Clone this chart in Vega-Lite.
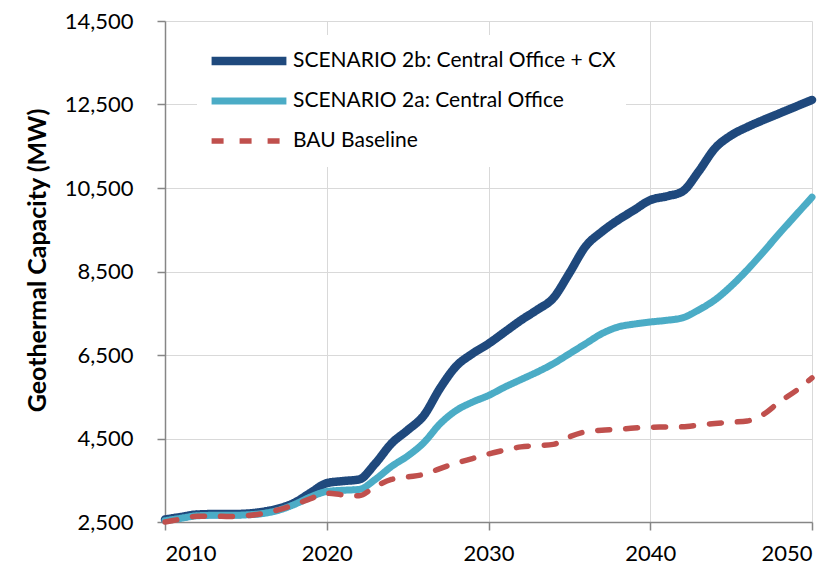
{
  "$schema": "https://vega.github.io/schema/vega-lite/v6.json",
  "width": 647,
  "height": 501,
  "autosize": {"type": "none"},
  "padding": {"left": 165, "top": 21, "right": 28, "bottom": 44},
  "background": "white",
  "config": {
    "font": "Lato",
    "view": {"stroke": null}
  },
  "datasets": {
    "s2b": [
      {"year": 2010, "value": 2560}, {"year": 2011, "value": 2620}, {"year": 2012, "value": 2680}, {"year": 2013, "value": 2690}, {"year": 2014, "value": 2690},
      {"year": 2015, "value": 2700}, {"year": 2016, "value": 2740}, {"year": 2017, "value": 2820}, {"year": 2018, "value": 2960}, {"year": 2019, "value": 3200},
      {"year": 2020, "value": 3430}, {"year": 2021, "value": 3480}, {"year": 2022, "value": 3520}, {"year": 2023, "value": 3900}, {"year": 2024, "value": 4380},
      {"year": 2025, "value": 4700}, {"year": 2026, "value": 5050}, {"year": 2027, "value": 5700}, {"year": 2028, "value": 6230}, {"year": 2029, "value": 6530},
      {"year": 2030, "value": 6770}, {"year": 2031, "value": 7050}, {"year": 2032, "value": 7330}, {"year": 2033, "value": 7580}, {"year": 2034, "value": 7860},
      {"year": 2035, "value": 8460}, {"year": 2036, "value": 9100}, {"year": 2037, "value": 9450}, {"year": 2038, "value": 9730}, {"year": 2039, "value": 9970},
      {"year": 2040, "value": 10210}, {"year": 2041, "value": 10300}, {"year": 2042, "value": 10420}, {"year": 2043, "value": 10900}, {"year": 2044, "value": 11450},
      {"year": 2045, "value": 11760}, {"year": 2046, "value": 11960}, {"year": 2047, "value": 12130}, {"year": 2048, "value": 12290}, {"year": 2049, "value": 12450},
      {"year": 2050, "value": 12610}
    ],
    "s2a": [
      {"year": 2010, "value": 2530}, {"year": 2011, "value": 2590}, {"year": 2012, "value": 2650}, {"year": 2013, "value": 2660}, {"year": 2014, "value": 2660},
      {"year": 2015, "value": 2670}, {"year": 2016, "value": 2700}, {"year": 2017, "value": 2780}, {"year": 2018, "value": 2920}, {"year": 2019, "value": 3100},
      {"year": 2020, "value": 3230}, {"year": 2021, "value": 3260}, {"year": 2022, "value": 3280}, {"year": 2023, "value": 3520}, {"year": 2024, "value": 3830},
      {"year": 2025, "value": 4080}, {"year": 2026, "value": 4400}, {"year": 2027, "value": 4850}, {"year": 2028, "value": 5170}, {"year": 2029, "value": 5370},
      {"year": 2030, "value": 5530}, {"year": 2031, "value": 5730}, {"year": 2032, "value": 5910}, {"year": 2033, "value": 6090}, {"year": 2034, "value": 6290},
      {"year": 2035, "value": 6530}, {"year": 2036, "value": 6770}, {"year": 2037, "value": 7010}, {"year": 2038, "value": 7170}, {"year": 2039, "value": 7240},
      {"year": 2040, "value": 7290}, {"year": 2041, "value": 7330}, {"year": 2042, "value": 7390}, {"year": 2043, "value": 7580}, {"year": 2044, "value": 7820},
      {"year": 2045, "value": 8150}, {"year": 2046, "value": 8540}, {"year": 2047, "value": 8970}, {"year": 2048, "value": 9420}, {"year": 2049, "value": 9850},
      {"year": 2050, "value": 10280}
    ],
    "bau": [
      {"year": 2010, "value": 2500}, {"year": 2011, "value": 2570}, {"year": 2012, "value": 2640}, {"year": 2013, "value": 2640}, {"year": 2014, "value": 2630},
      {"year": 2015, "value": 2650}, {"year": 2016, "value": 2700}, {"year": 2017, "value": 2790}, {"year": 2018, "value": 2910}, {"year": 2019, "value": 3060},
      {"year": 2020, "value": 3190}, {"year": 2021, "value": 3150}, {"year": 2022, "value": 3130}, {"year": 2023, "value": 3350}, {"year": 2024, "value": 3520},
      {"year": 2025, "value": 3580}, {"year": 2026, "value": 3640}, {"year": 2027, "value": 3780}, {"year": 2028, "value": 3910}, {"year": 2029, "value": 4020},
      {"year": 2030, "value": 4130}, {"year": 2031, "value": 4220}, {"year": 2032, "value": 4300}, {"year": 2033, "value": 4330}, {"year": 2034, "value": 4360},
      {"year": 2035, "value": 4540}, {"year": 2036, "value": 4660}, {"year": 2037, "value": 4700}, {"year": 2038, "value": 4720}, {"year": 2039, "value": 4750},
      {"year": 2040, "value": 4770}, {"year": 2041, "value": 4775}, {"year": 2042, "value": 4780}, {"year": 2043, "value": 4820}, {"year": 2044, "value": 4860},
      {"year": 2045, "value": 4890}, {"year": 2046, "value": 4920}, {"year": 2047, "value": 5080}, {"year": 2048, "value": 5380}, {"year": 2049, "value": 5640},
      {"year": 2050, "value": 5950}
    ]
  },
  "data": {"name": "s2b"},
  "transform": [
    {"lookup": "year", "from": {"data": {"name": "s2a"}, "key": "year", "fields": ["value"]}, "as": "v2a"},
    {"lookup": "year", "from": {"data": {"name": "bau"}, "key": "year", "fields": ["value"]}, "as": "vbau"},
    {"fold": ["value", "v2a", "vbau"], "as": ["key", "cap"]},
    {"lookup": "key", "from": {"data": {"values": [
      {"key": "value", "series": "SCENARIO 2b: Central Office + CX"},
      {"key": "v2a", "series": "SCENARIO 2a: Central Office"},
      {"key": "vbau", "series": "BAU Baseline"}
    ]}, "key": "key", "fields": ["series"]}}
  ],
  "mark": {"type": "line", "interpolate": "monotone", "strokeCap": "round"},
  "encoding": {
    "x": {
      "field": "year", "type": "quantitative",
      "scale": {"domain": [2010, 2050], "nice": false, "zero": false},
      "axis": {
        "title": null, "values": [2010, 2020, 2030, 2040, 2050], "format": "d",
        "labelFontSize": 22, "labelColor": "#000", "labelPadding": 13,
        "tickSize": 8, "tickColor": "#868686", "domainColor": "#868686", "domainWidth": 1.5, "tickWidth": 1.5,
        "grid": true, "gridColor": "#d9d9d9", "gridWidth": 1
      }
    },
    "y": {
      "field": "cap", "type": "quantitative",
      "scale": {"domain": [2500, 14500], "nice": false, "zero": false},
      "axis": {
        "title": "Geothermal Capacity (MW)", "titleFontSize": 25, "titleFontWeight": "bold", "titleColor": "#000", "titlePadding": 14, "titleY": 239,
        "values": [2500, 4500, 6500, 8500, 10500, 12500, 14500], "format": ",d",
        "labelFontSize": 22, "labelColor": "#000", "labelPadding": 24,
        "tickSize": 8, "tickColor": "#868686", "domainColor": "#868686", "domainWidth": 1.5, "tickWidth": 1.5,
        "grid": true, "gridColor": "#d9d9d9", "gridWidth": 1
      }
    },
    "color": {
      "field": "series", "type": "nominal",
      "scale": {"domain": ["SCENARIO 2b: Central Office + CX", "SCENARIO 2a: Central Office", "BAU Baseline"], "range": ["#1f497d", "#4bacc6", "#c0504d"]},
      "legend": {
        "title": null, "orient": "none", "legendX": 32, "legendY": 14,
        "symbolType": "stroke", "symbolSize": 5600, "labelFontSize": 21, "labelColor": "#000",
        "fillColor": "white", "padding": 10, "labelOffset": 2, "rowPadding": 8, "labelLimit": 500, "clipHeight": 32
      }
    },
    "strokeDash": {
      "field": "series", "type": "nominal",
      "scale": {"domain": ["SCENARIO 2b: Central Office + CX", "SCENARIO 2a: Central Office", "BAU Baseline"], "range": [[1, 0], [1, 0], [12, 16]]}
    },
    "strokeWidth": {
      "field": "series", "type": "ordinal",
      "scale": {"domain": ["SCENARIO 2b: Central Office + CX", "SCENARIO 2a: Central Office", "BAU Baseline"], "range": [8.5, 5.5, 4.5]}
    },
    "order": {"field": "year"}
  }
}
